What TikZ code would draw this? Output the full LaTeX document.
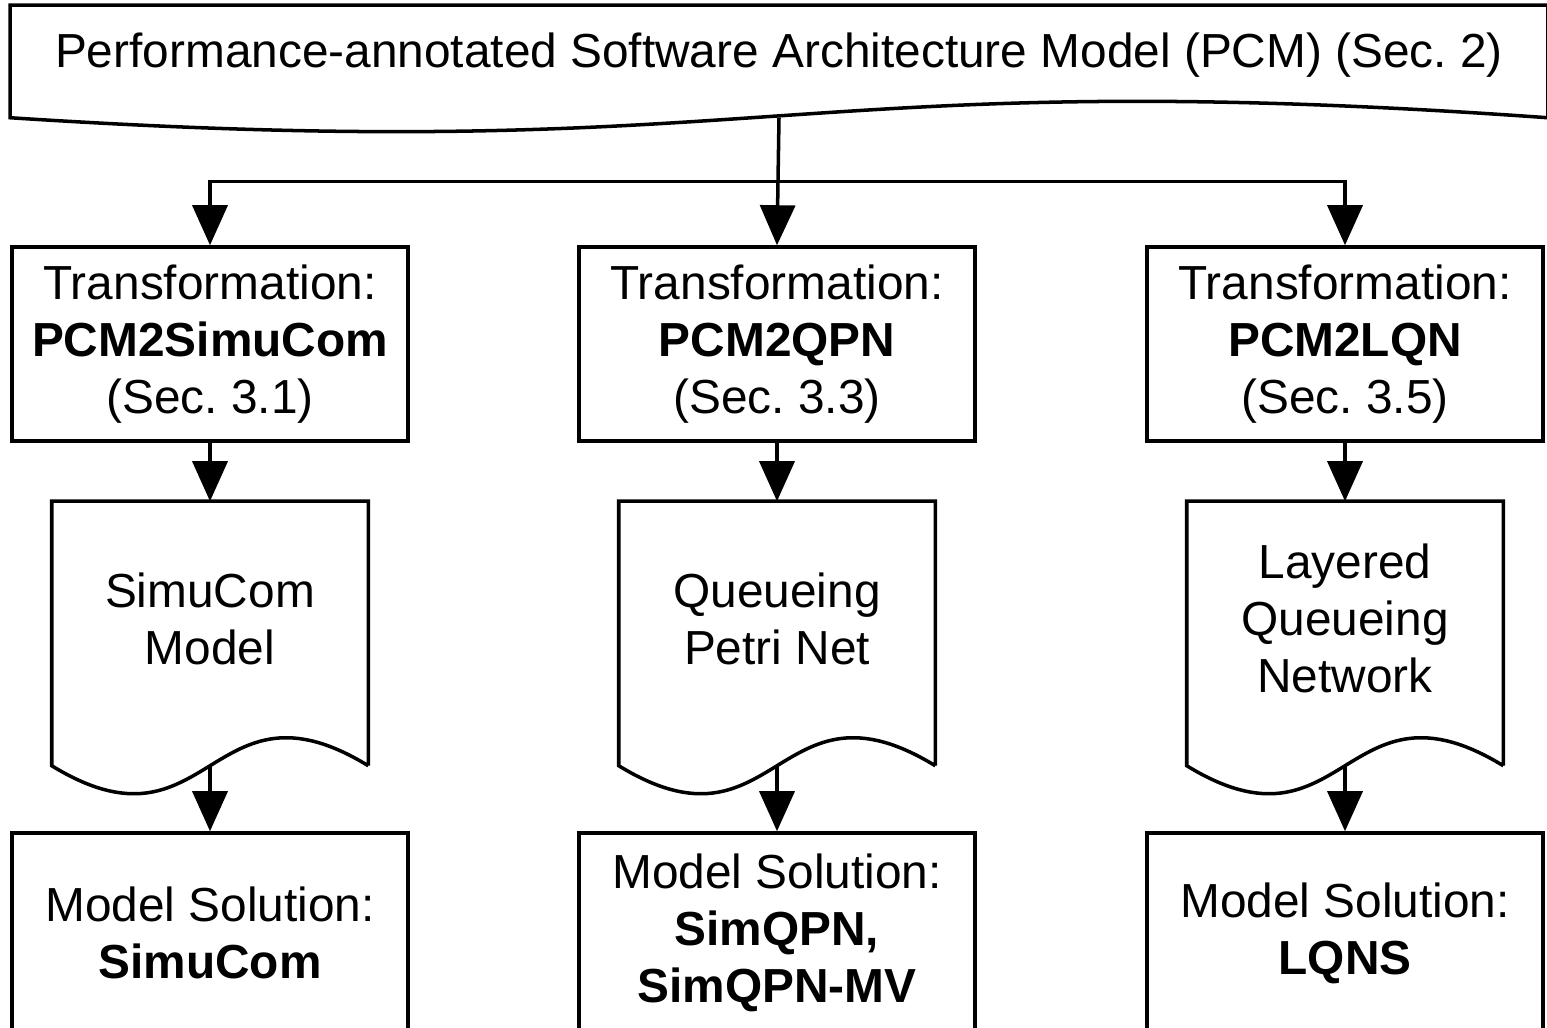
\documentclass[tikz,border=0pt]{standalone}
\usepackage{fontspec}
\setmainfont{Liberation Sans}
\usetikzlibrary{arrows.meta,calc}
\frenchspacing
\begin{document}
\begin{tikzpicture}[font=\fontsize{13.6}{16.2}\selectfont,line width=1pt,>={Triangle[width=0.35cm,length=0.4cm]},
  stepbox/.style={draw,align=center,minimum width=3.96cm,minimum height=1.94cm,inner sep=0pt},
  docbox/.style={align=center,minimum width=3.13cm,minimum height=2.61cm,text depth=0.3cm,inner sep=0pt}]
\path[use as bounding box,clip] (0,0) rectangle (15.47,10.28);
\node[align=center,minimum width=15.34cm,minimum height=1.09cm,text depth=0.22cm,inner sep=0pt] (pcm) at (7.79,9.665) {Performance-annotated Software Architecture Model (PCM) (Sec. 2)};
\node[stepbox] (simtr) at (2.10,6.84) {Transformation:\\\textbf{PCM2SimuCom}\\(Sec. 3.1)};
\node[stepbox] (qpntr) at (7.77,6.84) {Transformation:\\\textbf{PCM2QPN}\\(Sec. 3.3)};
\node[stepbox] (lqntr) at (13.45,6.84) {Transformation:\\\textbf{PCM2LQN}\\(Sec. 3.5)};
\node[docbox] (simdoc) at (2.10,3.945) {SimuCom\\Model};
\node[docbox] (qpndoc) at (7.77,3.945) {Queueing\\Petri Net};
\node[docbox] (lqndoc) at (13.45,3.945) {Layered\\Queueing\\Network};
\node[stepbox,minimum height=2cm] (simsol) at (2.10,0.95) {Model Solution:\\\textbf{SimuCom}};
\node[stepbox,minimum height=2cm] (qpnsol) at (7.77,0.95) {Model Solution:\\\textbf{SimQPN,}\\\textbf{SimQPN-MV}};
\node[stepbox,minimum height=2cm] (lqnsol) at (13.45,0.95) {Model Solution:\\\textbf{LQNS}};
\draw (pcm.south east) -- (pcm.north east) -- (pcm.north west) -- (pcm.south west) .. controls ($(pcm.south)+(0,-0.5)$) and ($(pcm.south)+(0,0.55)$) .. (pcm.south east);
\foreach \n in {simdoc,qpndoc,lqndoc}
  \draw (\n.south east) -- (\n.north east) -- (\n.north west) -- (\n.south west) .. controls ($(\n.south)+(0,-0.97)$) and ($(\n.south)+(0,0.97)$) .. (\n.south east);
\coordinate (fork) at ($(pcm.south)!0.5!(qpntr.north)$);
\draw[->] (pcm.south) -- (qpntr.north);
\draw[->] (fork) -| (simtr.north);
\draw[->] (fork) -| (lqntr.north);
\foreach \c in {sim,qpn,lqn} {
  \draw[->] (\c tr.south) -- (\c doc.north);
  \draw[->] (\c doc.south) -- (\c sol.north);
}
\end{tikzpicture}
\end{document}
